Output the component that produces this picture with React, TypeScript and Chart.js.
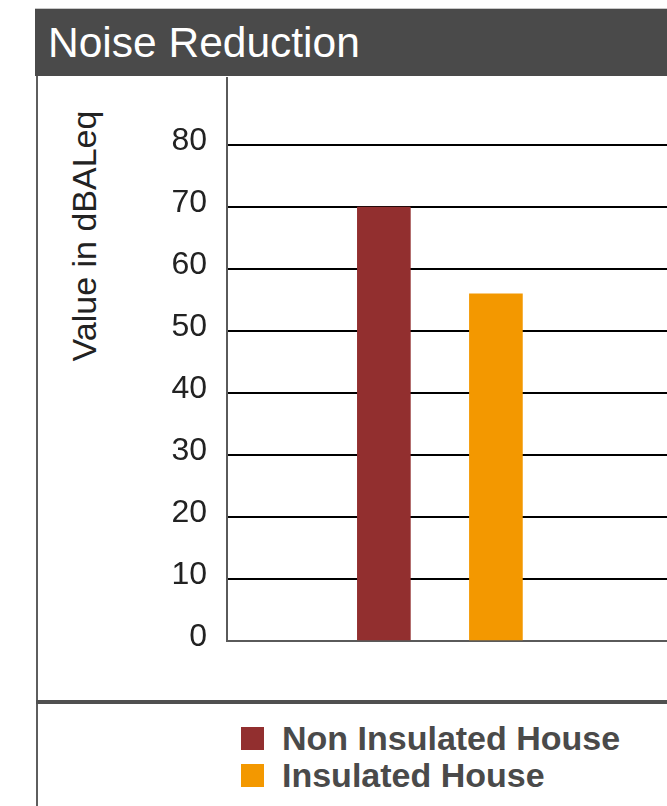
import React, { useEffect, useRef } from "react";
import { Chart, registerables } from "chart.js";

Chart.register(...registerables);

const chartTitle = "Noise Reduction";
const yAxisTitle = "Value in dBALeq";
const categories = ["Non Insulated House", "Insulated House"];
const values = [70, 56];
const colors = ["#922f2f", "#f39800"];
const yTicks = [0, 10, 20, 30, 40, 50, 60, 70, 80];
const yMax = 91;

const FONT = "'Liberation Sans', Arial, Helvetica, sans-serif";

export default function App() {
  const ref = useRef<HTMLCanvasElement | null>(null);

  useEffect(() => {
    if (!ref.current) return;
    const chart = new Chart(ref.current, {
      type: "bar",
      data: {
        datasets: categories.map((c, i) => ({
          label: c,
          data: [{ x: i + 1, y: values[i] }],
          backgroundColor: colors[i],
          borderWidth: 0,
          barThickness: 53,
          grouped: false,
        })),
      },
      options: {
        animation: false,
        responsive: false,
        maintainAspectRatio: false,
        events: [],
        layout: { padding: { top: 0, left: 0, right: 0, bottom: 20 } },
        plugins: {
          legend: { display: false },
          tooltip: { enabled: false },
          title: { display: false },
        },
        scales: {
          x: {
            type: "linear",
            min: -0.4,
            max: 4,
            offset: false,
            z: 1,
            ticks: { display: false },
            grid: { display: false },
            border: { display: true, color: "#5a5a5a", width: 2 },
            afterFit: (s: any) => {
              s.height = 0;
              s.paddingLeft = 0;
              s.paddingRight = 0;
            },
          },
          y: {
            type: "linear",
            min: 0,
            max: yMax,
            z: 1,
            afterBuildTicks: (s: any) => {
              s.ticks = yTicks.map((v) => ({ value: v }));
            },
            ticks: {
              padding: 20,
              labelOffset: -4,
              color: "#222",
              font: { family: FONT, size: 32 },
            },
            grid: {
              drawTicks: false,
              lineWidth: 2,
              color: (ctx: any) => (ctx.tick && ctx.tick.value === 0 ? "#5a5a5a" : "#000"),
            },
            border: { display: true, color: "#5a5a5a", width: 2 },
            afterFit: (s: any) => {
              s.width = 189;
              s.paddingTop = 0;
              s.paddingBottom = 0;
            },
          },
        },
      } as any,
    });
    return () => chart.destroy();
  }, []);

  return (
    <div
      style={{
        position: "absolute",
        left: 0,
        top: 0,
        width: 667,
        height: 806,
        overflow: "hidden",
        background: "#fff",
        fontFamily: FONT,
      }}
    >
      {/* header */}
      <div
        style={{
          position: "absolute",
          left: 35,
          top: 8,
          width: 640,
          height: 1,
          background: "#c8c8c8",
        }}
      />
      <div
        style={{
          position: "absolute",
          left: 35,
          top: 9,
          width: 640,
          height: 67,
          background: "#4a4a4a",
          display: "flex",
          alignItems: "center",
        }}
      >
        <span
          style={{
            marginLeft: 13,
            color: "#fff",
            fontSize: 42.5,
            whiteSpace: "nowrap",
          }}
        >
          {chartTitle}
        </span>
      </div>
      {/* left border */}
      <div
        style={{
          position: "absolute",
          left: 36,
          top: 76,
          width: 2,
          height: 730,
          background: "#5e5e5e",
        }}
      />
      {/* y axis title */}
      <div
        style={{
          position: "absolute",
          left: 84,
          top: 236,
          transform: "translate(-50%, -50%) rotate(-90deg)",
          whiteSpace: "nowrap",
          fontSize: 34,
          color: "#222",
          lineHeight: "36px",
        }}
      >
        {yAxisTitle}
      </div>
      {/* chart */}
      <canvas
        ref={ref}
        width={682}
        height={584}
        style={{ position: "absolute", left: 38, top: 77, width: 682, height: 584 }}
      />
      {/* separator */}
      <div
        style={{
          position: "absolute",
          left: 36,
          top: 700,
          width: 640,
          height: 4,
          background: "#505050",
        }}
      />
      {/* legend */}
      <div style={{ position: "absolute", left: 241, top: 720 }}>
        {categories.map((c, i) => (
          <div
            key={c}
            style={{ display: "flex", alignItems: "center", height: 37 }}
          >
            <span
              style={{
                display: "inline-block",
                width: 23,
                height: 23,
                background: colors[i],
                marginRight: 18,
              }}
            />
            <span
              style={{
                fontSize: 34,
                fontWeight: "bold",
                color: "#4a4a4a",
                whiteSpace: "nowrap",
              }}
            >
              {c}
            </span>
          </div>
        ))}
      </div>
    </div>
  );
}
